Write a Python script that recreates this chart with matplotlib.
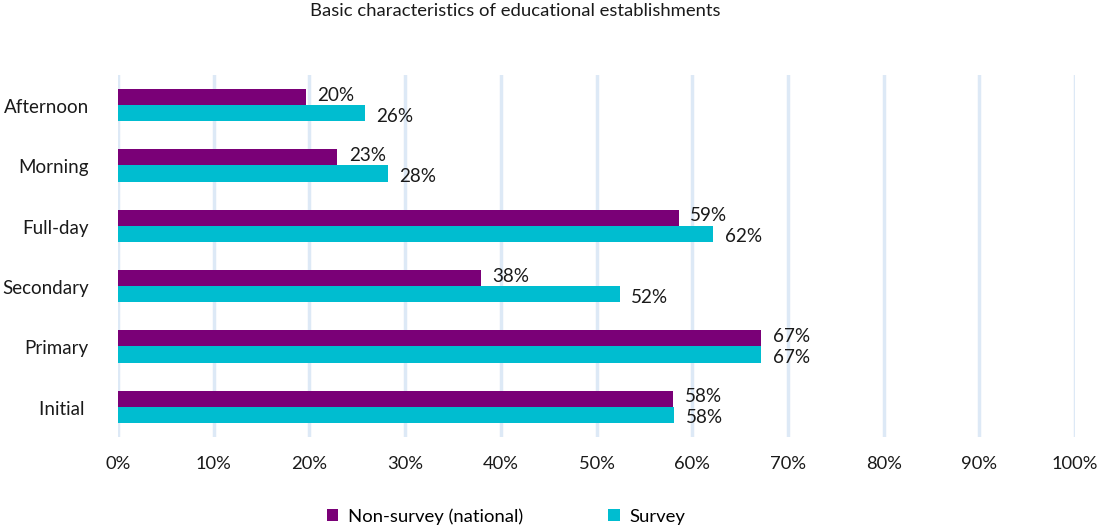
import matplotlib
matplotlib.use("Agg")
import matplotlib.pyplot as plt
import matplotlib.transforms as mtransforms
from matplotlib.patches import Patch
import numpy as np

categories = ["Initial ", "Primary", "Secondary", "Full-day", "Morning", "Afternoon"]
non_survey = [58.0, 67.2, 37.9, 58.6, 22.9, 19.6]
survey = [58.1, 67.2, 52.4, 62.2, 28.2, 25.8]
series_names = ["Non-survey (national)", "Survey"]
x_ticks = list(range(0, 101, 10))

purple = "#7a0077"
cyan = "#00bdd0"
grid_col = "#dde9f6"

plt.rcParams["font.family"] = ["Lato", "DejaVu Sans"]

fig = plt.figure(figsize=(11.03, 5.27), dpi=100)
ax = fig.add_axes([0.107, 0.1708, 0.8677, 0.6869])

y = np.arange(len(categories))
h = 0.27
ax.barh(y + h / 2, non_survey, height=h, color=purple, zorder=3)
ax.barh(y - h / 2, survey, height=h, color=cyan, zorder=3)

for yi, v in zip(y, non_survey):
    ax.text(v + 1.2, yi + h / 2 + 0.03, f"{v:.0f}%", va="center", ha="left",
            fontsize=13.6, color="#1a1a1a")
for yi, v in zip(y, survey):
    ax.text(v + 1.2, yi - h / 2 - 0.05, f"{v:.0f}%", va="center", ha="left",
            fontsize=13.6, color="#1a1a1a")

ax.set_xlim(0, 100)
ax.set_ylim(-0.5, 5.5)
ax.set_xticks(x_ticks)
ax.set_xticklabels([f"{t}%" for t in x_ticks])
ax.set_yticks(y)
ax.set_yticklabels(categories)
ax.tick_params(axis="both", length=0, colors="#1a1a1a")
ax.tick_params(axis="x", pad=14, labelsize=13.2)
ax.tick_params(axis="y", pad=21, labelsize=13.5)
shift = mtransforms.ScaledTranslation(0, -2.5 / 100, fig.dpi_scale_trans)
for lbl in ax.get_yticklabels():
    lbl.set_va("center")
    lbl.set_transform(lbl.get_transform() + shift)
ax.grid(axis="x", color=grid_col, linewidth=2.5, zorder=0)
for s in ax.spines.values():
    s.set_visible(False)

fig.text(0.467, 0.979, "Basic characteristics of educational establishments",
         ha="center", va="center", fontsize=13.3, color="#1a1a1a")

handles = [Patch(facecolor=purple), Patch(facecolor=cyan)]
fig.legend(handles, series_names, loc="lower center", bbox_to_anchor=(0.459, -0.027),
           ncol=2, frameon=False, fontsize=13.3, handlelength=0.6, handleheight=0.6,
           handletextpad=0.55, columnspacing=4.6)

fig.savefig("out.png", dpi=100)
